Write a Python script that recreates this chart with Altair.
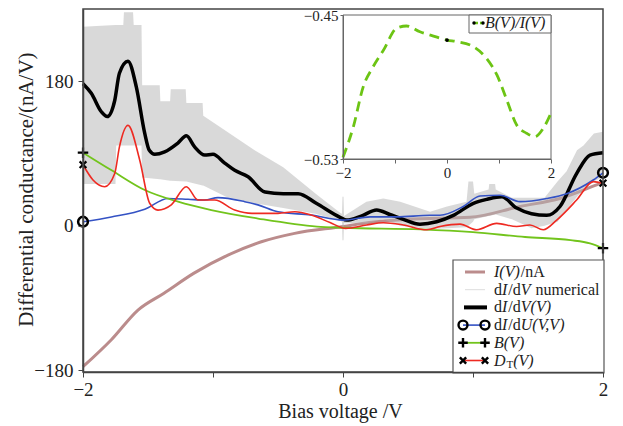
import altair as alt
import pandas as pd

# ---------------- data ----------------
# I(V)/nA
iv_v = [-2.0, -1.782, -1.577, -1.377, -1.146, -0.885, -0.628, -0.372, 0.0, 0.2, 0.5, 0.977, 1.362, 1.669, 1.951, 2.0]
iv_y = [-175.6, -142, -105, -84, -59, -36.5, -20, -9.5, -1, 4, 8, 10.5, 24, 34, 51, 54]

# dI/dV numerical (noisy envelope)
num_v = [-2.0, -1.75, -1.745, -1.69, -1.685, -1.615, -1.61, -1.55, -1.545, -1.41,
         -1.405, -1.33, -1.325, -1.21, -1.205, -1.08, -1.075, -0.90, -0.68, -0.46,
         -0.21, -0.02, -0.008, -0.004, 0.004, 0.008, 0.18, 0.31, 0.44, 0.67,
         0.80, 0.95, 0.965, 1.0, 1.01, 1.12, 1.125, 1.17, 1.175, 1.30,
         1.45, 1.55, 1.65, 1.72, 1.80, 1.85, 1.93, 2.0]
num_hi = [248, 250, 250, 250, 266, 266, 250, 250, 175, 175,
          155, 155, 170, 170, 153, 153, 137, 118, 94, 73,
          40, 16, 15, 36, 36, 12, 30, 34, 30, 17.5,
          24, 30, 55, 55, 40, 45, 52, 52, 45, 35,
          35, 35, 55, 68, 94, 100, 115, 117]
num_lo = [52, 52, 100, 100, 100, 100, 100, 100, 60, 58,
          58, 56, 56, 55, 55, 50, 50, 36, 28, 22,
          15, 6, 5, -18, -18, 3, 3, 8, 0, -4,
          -3, -2, 0, 5, 8, 12, 12, 14, 14, 8,
          -3, 0, 5, 20, 36, 45, 55, 61]

# dI/dV(V)
didv_v = [-2.0, -1.936, -1.859, -1.813, -1.756, -1.72, -1.654, -1.59, -1.525, -1.49,
          -1.448, -1.372, -1.27, -1.205, -1.14, -1.064, -1.0, -0.91, -0.833, -0.73,
          -0.6, -0.459, -0.344, -0.206, -0.023, 0.028, 0.14, 0.259, 0.36, 0.464,
          0.592, 0.72, 0.849, 1.003, 1.11, 1.221, 1.336, 1.45, 1.567, 1.669,
          1.797, 1.9, 2.0]
didv_y = [177, 165, 142, 136, 156, 190, 205, 173, 115, 94,
          89, 92, 103, 112, 98, 88, 89, 78, 69, 61,
          42, 40, 40, 28, 10.5, 7, 12, 19.6, 14, 8,
          2, 5, 13, 28, 33, 36, 22, 15, 13, 24,
          65, 88, 91]

# dI/dU(V,V)
didu_v = [-2.0, -1.782, -1.525, -1.346, -1.192, -1.064, -0.962, -0.756, -0.654, -0.5,
          -0.246, 0.0, 0.208, 0.413, 0.669, 0.746, 0.925, 1.054, 1.208, 1.362,
          1.567, 1.721, 1.925, 2.0]
didu_y = [5, 11, 20.6, 34, 33, 32, 35, 30, 26, 17.4,
          13.3, 7, 11, 11, 13, 13, 24, 37, 38, 30,
          34, 40, 57, 66]

# B(V)
b_v = [-2.0, -1.78, -1.525, -1.269, -1.013, -0.654, -0.2, 0.0, 0.6, 1.0, 1.4, 1.75, 1.9, 2.0]
b_y = [91, 69, 44.5, 30, 19.6, 9, -1, -2.5, -4.5, -8, -14, -18, -22, -28]

# D_T(V)
dt_v = [-2.0, -1.923, -1.833, -1.756, -1.72, -1.654, -1.564, -1.487, -1.423, -1.321,
        -1.205, -1.115, -0.987, -0.833, -0.7, -0.5, -0.37, -0.244, -0.1, 0.02,
        0.182, 0.31, 0.464, 0.644, 0.746, 0.9, 1.028, 1.182, 1.336, 1.438,
        1.541, 1.644, 1.797, 1.925, 2.0]
dt_y = [76, 57, 48.6, 65, 98, 125, 82, 28, 19.5, 26,
        48.6, 32, 32, 19.6, 15.4, 15.4, 17.4, 13.3, 4, -3.3,
        1, 3.8, 1, -5, -1, 2, -5, 3, -1, 1,
        -5, 7, 32, 55, 53]

# inset: B(V)/I(V)
ins_v = [-2.0, -1.8, -1.61, -1.42, -1.22, -0.97, -0.78, -0.52, -0.26, 0.0,
         0.19, 0.51, 0.76, 0.96, 1.15, 1.34, 1.53, 1.69, 1.85, 2.0]
ins_y = [-0.529, -0.512, -0.4898, -0.4787, -0.4694, -0.4574, -0.4561, -0.4593, -0.4617, -0.4639,
         -0.4648, -0.4676, -0.4741, -0.4833, -0.4972, -0.5111, -0.5157, -0.5176, -0.513, -0.5045]

x_ticks = [-2, -1, 0, 1, 2]
y_ticks = [-180, 0, 180]
ins_y_ticks = [-0.53, -0.45]

legend_labels = [
    [("I(V)", "it"), ("/nA", "n")],
    [("d", "n"), ("I", "it"), ("/d", "n"), ("V", "it"), ("numerical", "gap")],
    [("d", "n"), ("I", "it"), ("/d", "n"), ("V(V)", "it")],
    [("d", "n"), ("I", "it"), ("/d", "n"), ("U(V,V)", "it")],
    [("B(V)", "it")],
    [("D", "it"), ("T", "sub"), ("(V)", "it")],
]
inset_label = [("B(V)/I(V)", "it")]

# ---------------- styling ----------------
FONT = "Liberation Serif"
W, H = 520, 363
Y_DOM = [-182.2, 270.0]
C_BROWN = "#bb8c8c"
C_GRAY = "#b4b4b4"
C_BLACK = "#000000"
C_BLUE = "#3452c4"
C_GREEN = "#72c41c"
C_RED = "#ee2a22"
TXT = "#222222"

xs = alt.Scale(domain=[-2, 2], nice=False)
ys = alt.Scale(domain=Y_DOM, nice=False, zero=False)

x_axis = alt.Axis(values=x_ticks, labelExpr="abs(datum.value) == 1 ? '' : datum.label",
                  title="Bias voltage /V", titleFont=FONT, titleFontSize=20, titleFontWeight="normal",
                  titleColor=TXT, titleX=257, titleY=39, titleBaseline="middle",
                  labelFont=FONT, labelFontSize=19, labelColor=TXT, labelPadding=3, labelFlush=False,
                  tickSize=5, tickColor="#444", domainColor="#444", domainWidth=1.5,
                  grid=False, zindex=1)
y_axis = alt.Axis(values=y_ticks, title="Differential conductance/(nA/V)", titleFont=FONT,
                  titleFontSize=21, titleFontWeight="normal", titleColor=TXT,
                  titleX=-57, titleY=180, titleAngle=270, titleAlign="center", titleBaseline="middle",
                  labelFont=FONT, labelFontSize=19, labelColor=TXT, labelPadding=5, labelFlush=False,
                  tickSize=5, tickColor="#444", domainColor="#444", domainWidth=1.5,
                  grid=False, zindex=1)

X = alt.X("V:Q", scale=xs, axis=x_axis)
Y = alt.Y("y:Q", scale=ys, axis=y_axis)


def frame(v, y):
    return pd.DataFrame({"V": v, "y": y})


ONE = pd.DataFrame({"k": [0]})

REG = {"d": .5, "/": .278, "n": .5, "A": .722, " ": .25, "u": .5, "m": .778, "e": .444, "r": .333,
       "i": .278, "c": .444, "a": .444, "l": .278, "(": .333, ")": .333, "T": .611, "V": .722, ",": .25}
ITA = {"I": .333, "(": .333, "V": .611, ")": .333, "U": .722, "B": .611, "D": .722, ",": .25, "/": .278}


def rich_text(segs, x0, y, size=16):
    layers = []
    x = x0
    for s, style in segs:
        if style == "gap":
            x += 0.25 * size
        fs = size if style != "sub" else round(size * 0.7)
        dy = 4 if style == "sub" else 0
        italic = style == "it"
        layers.append(
            alt.Chart(ONE).mark_text(text=s, font=FONT, fontSize=fs,
                                     fontStyle="italic" if italic else "normal",
                                     align="left", baseline="middle", dy=dy, color=TXT)
            .encode(x=alt.value(x), y=alt.value(y))
        )
        table = ITA if italic else REG
        x += sum(table.get(ch, 0.5) for ch in s) * fs + (1 if italic else 0)
    return layers


PLUS = "M-1,0L1,0M0,-1L0,1"
CROSS = "M-1,-1L1,1M-1,1L1,-1"

# ---------------- main plot ----------------
brown = alt.Chart(frame(iv_v, iv_y)).mark_line(color=C_BROWN, strokeWidth=3, interpolate="monotone").encode(x=X, y=Y)
gray = alt.Chart(pd.DataFrame({"V": num_v, "y": num_hi, "lo": num_lo})).mark_area(
    color=C_GRAY, opacity=0.5).encode(x=X, y=Y, y2="lo:Q")
black = alt.Chart(frame(didv_v, didv_y)).mark_line(color=C_BLACK, strokeWidth=3.5, interpolate="monotone").encode(x=X, y=Y)
blue = alt.Chart(frame(didu_v, didu_y)).mark_line(color=C_BLUE, strokeWidth=1.6, interpolate="monotone").encode(x=X, y=Y)
green = alt.Chart(frame(b_v, b_y)).mark_line(color=C_GREEN, strokeWidth=1.8, interpolate="monotone").encode(x=X, y=Y)
red = alt.Chart(frame(dt_v, dt_y)).mark_line(color=C_RED, strokeWidth=1.6, interpolate="monotone").encode(x=X, y=Y)

ends_blue = alt.Chart(frame([didu_v[0], didu_v[-1]], [didu_y[0], didu_y[-1]])).mark_point(
    shape="circle", filled=False, size=95, color="black", strokeWidth=2.5, opacity=1).encode(x=X, y=Y)
ends_green = alt.Chart(frame([b_v[0], b_v[-1]], [b_y[0], b_y[-1]])).mark_point(
    shape=PLUS, filled=False, size=110, color="black", strokeWidth=2.2, opacity=1).encode(x=X, y=Y)
ends_red = alt.Chart(frame([dt_v[0], dt_v[-1]], [dt_y[0], dt_y[-1]])).mark_point(
    shape=CROSS, filled=False, size=45, color="black", strokeWidth=2.2, opacity=1).encode(x=X, y=Y)

plot_frame = alt.Chart(ONE).mark_rect(fillOpacity=0, stroke="#444", strokeWidth=1.5).encode(
    x=alt.value(0), x2=alt.value(W), y=alt.value(0), y2=alt.value(H))

# legend
LX0, LX1 = 370, 521
LY0, LY1 = 251, 364
leg_box = alt.Chart(ONE).mark_rect(fill="white", stroke="#555", strokeWidth=1.2).encode(
    x=alt.value(LX0), x2=alt.value(LX1), y=alt.value(LY0), y2=alt.value(LY1))
rows_y = [263 + i * 17.7 for i in range(6)]
SX0, SX1, TX = 380, 402, 411
sym_styles = [
    dict(color=C_BROWN, strokeWidth=3, x0=382, x1=402),
    dict(color="#dddddd", strokeWidth=1, x0=382, x1=402),
    dict(color=C_BLACK, strokeWidth=4, x0=381, x1=404),
    dict(color=C_BLUE, strokeWidth=1.6, x0=SX0, x1=SX1),
    dict(color=C_GREEN, strokeWidth=1.8, x0=SX0, x1=SX1),
    dict(color=C_RED, strokeWidth=1.6, x0=SX0, x1=SX1),
]
legend_layers = [leg_box]
for i, st in enumerate(sym_styles):
    yy = rows_y[i]
    legend_layers.append(
        alt.Chart(ONE).mark_rule(color=st["color"], strokeWidth=st["strokeWidth"]).encode(
            x=alt.value(st["x0"]), x2=alt.value(st["x1"]), y=alt.value(yy)))
    if i >= 3:
        shape, size = [("circle", 80), (PLUS, 90), (CROSS, 40)][i - 3]
        for xx in (SX0, SX1):
            legend_layers.append(
                alt.Chart(ONE).mark_point(shape=shape, filled=False, size=size, color="black",
                                          strokeWidth=2.4, opacity=1).encode(x=alt.value(xx), y=alt.value(yy)))
    legend_layers += rich_text(legend_labels[i], TX, yy)

main = alt.layer(brown, gray, black, blue, green, red, ends_blue, ends_green, ends_red,
                 plot_frame, *legend_layers)

# ---------------- inset ----------------
IX0, IX1, IY0, IY1 = 260, 468, 6, 150
ixs = alt.Scale(domain=[-2, 2], range=[IX0, IX1], nice=False)
iys = alt.Scale(domain=[-0.53, -0.45], range=[IY1, IY0], nice=False, zero=False)
ix_axis = alt.Axis(orient="bottom", offset=-(H - IY1), values=x_ticks,
                   labelExpr="abs(datum.value) == 1 ? '' : datum.label", title=None,
                   labelFont=FONT, labelFontSize=15, labelColor=TXT, labelPadding=2, labelFlush=False,
                   tickSize=4, tickColor="#666", domainColor="#666", grid=False, zindex=2)
iy_axis = alt.Axis(orient="left", offset=-IX0, values=ins_y_ticks, format=".2f", title=None,
                   labelFont=FONT, labelFontSize=15, labelColor=TXT, labelPadding=2, labelFlush=False,
                   tickSize=3, tickColor="#666", domainColor="#666", grid=False, zindex=2)
IXe = alt.X("V:Q", scale=ixs, axis=ix_axis)
IYe = alt.Y("y:Q", scale=iys, axis=iy_axis)

inset_bg = alt.Chart(ONE).mark_rect(fill="white", stroke="#666", strokeWidth=1).encode(
    x=alt.value(IX0), x2=alt.value(IX1), y=alt.value(IY0), y2=alt.value(IY1))
ins_df = frame(ins_v, ins_y)
inset_line = alt.Chart(ins_df).mark_line(color="#6cc414", strokeWidth=2.8, strokeDash=[10, 6],
                                         interpolate="monotone").encode(x=IXe, y=IYe)
inset_dot = alt.Chart(ins_df[ins_df["V"] == 0]).mark_point(
    filled=True, size=14, color="black", opacity=1).encode(x=IXe, y=IYe)
ileg_box = alt.Chart(ONE).mark_rect(fill="white", stroke="#666", strokeWidth=1).encode(
    x=alt.value(386), x2=alt.value(IX1), y=alt.value(IY0), y2=alt.value(24))
ileg_line = alt.Chart(ONE).mark_rule(color="#6cc414", strokeWidth=2.5, strokeDash=[4, 2]).encode(
    x=alt.value(391), x2=alt.value(400), y=alt.value(14))
ileg_dots = [alt.Chart(ONE).mark_point(filled=True, size=12, color="black", opacity=1).encode(
    x=alt.value(xx), y=alt.value(14)) for xx in (391, 400)]

inset = alt.layer(inset_bg, inset_line, inset_dot, ileg_box, ileg_line, *ileg_dots,
                  *rich_text(inset_label, 402, 14))

chart = alt.layer(main, inset).resolve_scale(x="independent", y="independent").properties(
    width=W, height=H,
    padding={"left": 75, "top": 1, "right": 12, "bottom": 52},
    autosize=alt.AutoSizeParams(type="none"),
).configure_view(stroke=None)

chart.save("out.html", embed_options={"renderer": "svg", "actions": False})
